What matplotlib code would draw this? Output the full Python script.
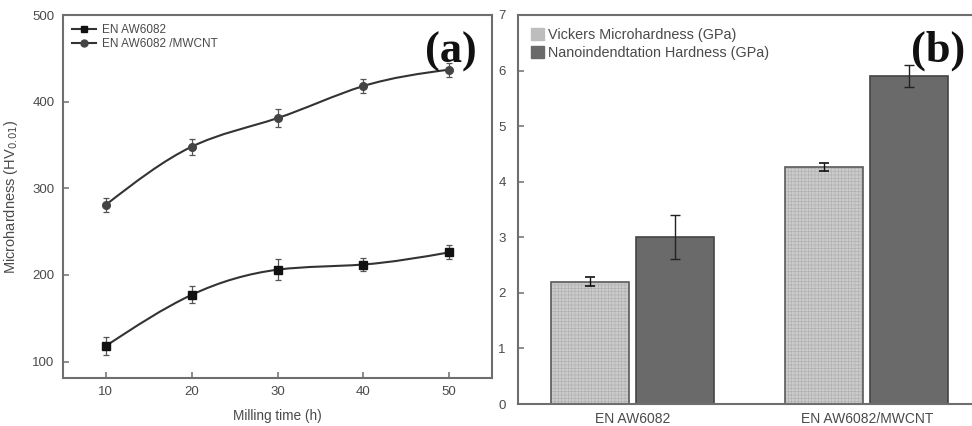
import numpy as np
import matplotlib
matplotlib.use('Agg')
import matplotlib.pyplot as plt
from matplotlib.path import Path
from matplotlib.patches import PathPatch

plt.rcParams['font.family'] = 'Liberation Sans'

# (a) microhardness vs milling time
tempo = [10, 20, 30, 40, 50]
hv_base = [118, 177, 206, 212, 226]
hv_base_err = [10, 10, 12, 8, 8]
hv_cnt = [281, 348, 381, 418, 437]
hv_cnt_err = [8, 9, 10, 8, 8]

# (b) hardness comparison
materiais = ['EN AW6082', 'EN AW6082/MWCNT']
vickers = [2.2, 4.26]
vickers_err = [0.08, 0.07]
nano = [3.01, 5.9]
nano_err = [0.4, 0.2]

COR_TXT = '#4a4a4a'
COR_EIXO = '#6e6e6e'


def curva_spline(x, y):
    # natural cubic spline drawn as bezier segments through the points
    x = np.asarray(x, float)
    y = np.asarray(y, float)
    n = len(x)
    h = np.diff(x)
    A = np.zeros((n, n))
    b = np.zeros(n)
    A[0, 0] = A[-1, -1] = 1
    for i in range(1, n - 1):
        A[i, i - 1] = h[i - 1]
        A[i, i] = 2 * (h[i - 1] + h[i])
        A[i, i + 1] = h[i]
        b[i] = 6 * ((y[i + 1] - y[i]) / h[i] - (y[i] - y[i - 1]) / h[i - 1])
    M = np.linalg.solve(A, b)
    verts = [(x[0], y[0])]
    codes = [Path.MOVETO]
    for i in range(n - 1):
        s = (y[i + 1] - y[i]) / h[i]
        d0 = s - h[i] * (2 * M[i] + M[i + 1]) / 6
        d1 = s + h[i] * (M[i] + 2 * M[i + 1]) / 6
        verts += [(x[i] + h[i] / 3, y[i] + d0 * h[i] / 3),
                  (x[i + 1] - h[i] / 3, y[i + 1] - d1 * h[i] / 3),
                  (x[i + 1], y[i + 1])]
        codes += [Path.CURVE4] * 3
    return Path(verts, codes)


fig = plt.figure(figsize=(9.72, 4.26), dpi=100)

# ---------- (a)
ax1 = fig.add_axes([0.0648, 0.1127, 0.4414, 0.852])
series = [(hv_base, hv_base_err, 's', '#111111'),
          (hv_cnt, hv_cnt_err, 'o', '#444444')]
for yv, err, mk, cor in series:
    ax1.add_patch(PathPatch(curva_spline(tempo, yv), fill=False, lw=1.5, edgecolor='#333333'))
    ax1.errorbar(tempo, yv, yerr=err, fmt='none', ecolor='#555555', elinewidth=0.9,
                 capsize=2.5, capthick=0.9)
    ax1.plot(tempo, yv, linestyle='none', marker=mk, ms=5.5, mfc=cor, mec=cor)

h1 = [plt.Line2D([], [], color='#333333', lw=1.5, marker='s', ms=5, mfc='#111111', mec='#111111'),
      plt.Line2D([], [], color='#333333', lw=1.5, marker='o', ms=5, mfc='#444444', mec='#444444')]
ax1.legend(h1, ['EN AW6082', 'EN AW6082 /MWCNT'], loc='upper left', frameon=False,
           fontsize=8.5, handlelength=2.0, handletextpad=0.5, labelspacing=0.15,
           borderaxespad=0.4, labelcolor=COR_TXT)

ax1.set_xlim(5, 55)
ax1.set_ylim(81, 500)
ax1.set_xticks(tempo)
ax1.set_yticks([100, 200, 300, 400, 500])
ax1.set_xlabel('Milling time (h)', fontsize=9.8, color=COR_TXT, labelpad=8)
ax1.set_ylabel('Microhardness (HV$_{0.01}$)', fontsize=10.5, color=COR_TXT, labelpad=9)
ax1.text(0.965, 0.955, '(a)', transform=ax1.transAxes, ha='right', va='top',
         fontsize=32, fontweight='bold', family='Liberation Serif', color='#111111')

# ---------- (b)
ax2 = fig.add_axes([0.533, 0.0516, 0.467, 0.9132])
pos = np.arange(len(materiais))
larg = 0.333
desloc = 0.182
# textured light bars: hatch layer + outline layer
plt.rcParams['hatch.linewidth'] = 0.45
ax2.bar(pos - desloc, vickers, larg, color='#cbcbcb', edgecolor='#b0b0b0', lw=0, hatch='+++++')
ax2.bar(pos - desloc, vickers, larg, fill=False, edgecolor='#5a5a5a', lw=1.2)
ax2.bar(pos + desloc, nano, larg, color='#6a6a6a', edgecolor='#444444', lw=1.2)
ax2.errorbar(pos - desloc, vickers, yerr=vickers_err, fmt='none', ecolor='#111111',
             elinewidth=1.0, capsize=3.5, capthick=1.2)
ax2.errorbar(pos + desloc, nano, yerr=nano_err, fmt='none', ecolor='#222222',
             elinewidth=1.0, capsize=3.5, capthick=1.0)

h2 = [plt.Rectangle((0, 0), 1, 1, color='#bdbdbd'), plt.Rectangle((0, 0), 1, 1, color='#6a6a6a')]
ax2.legend(h2, ['Vickers Microhardness (GPa)', 'Nanoindendtation Hardness (GPa)'],
           loc='upper left', frameon=False, fontsize=10.4, handlelength=0.9, handleheight=0.9,
           handletextpad=0.25, labelspacing=0.3, borderaxespad=0.5, labelcolor=COR_TXT)

ax2.set_xlim(-0.49, 1.45)
ax2.set_ylim(0, 7)
ax2.set_xticks(pos)
ax2.set_xticklabels(materiais)
ax2.spines['right'].set_visible(False)
ax2.text(0.985, 0.96, '(b)', transform=ax2.transAxes, ha='right', va='top',
         fontsize=32, fontweight='bold', family='Liberation Serif', color='#111111')

for ax in (ax1, ax2):
    for s in ax.spines.values():
        s.set_color(COR_EIXO)
        s.set_linewidth(1.5)
    ax.tick_params(direction='in', length=4, width=1.1, color=COR_EIXO,
                   labelcolor=COR_TXT, labelsize=9.5, pad=6)
ax2.tick_params(axis='x', length=0, pad=6, labelsize=10)
ax2.tick_params(axis='y', pad=9)

fig.savefig('out.png', dpi=100)
